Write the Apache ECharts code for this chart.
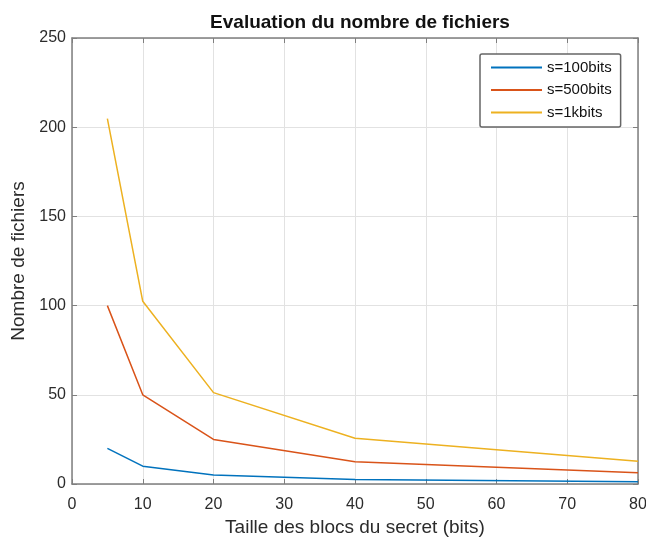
<!DOCTYPE html>
<html>
<head>
<meta charset="utf-8">
<script src="https://cdn.jsdelivr.net/npm/echarts@6/dist/echarts.min.js"></script>
<style>
  html, body { margin: 0; padding: 0; background: #fff; }
  #chart { width: 646px; height: 540px; }
</style>
</head>
<body>
<div id="chart"></div>
<script>
// tailles de blocs (bits)
const blockSizes = [5, 10, 20, 40, 80]
const s100 = [20, 10, 5, 2.5, 1.25]
const s500 = [100, 50, 25, 12.5, 6.25]
const s1k = [204.8, 102.4, 51.2, 25.6, 12.8]
const seriesNames = ['s=100bits', 's=500bits', 's=1kbits']
const seriesColors = ['#0072BD', '#D95319', '#EDB120']

const chart = echarts.init(document.getElementById('chart'))

const font = 'Helvetica, Arial, "Liberation Sans", sans-serif'
const axisCol = '#7f7f7f'
const textCol = '#2b2b2b'

function pairs(ys) {
  return blockSizes.map((x, i) => [x, ys[i]])
}

// axe secondaire (haut / droite) : juste le cadre + graduations
function frameAxis(extra) {
  return Object.assign({
    type: 'value',
    axisLine: { show: true, onZero: false, lineStyle: { color: axisCol, width: 1.5 } },
    axisTick: { show: true, inside: true, length: 5, lineStyle: { color: axisCol } },
    axisLabel: { show: false },
    splitLine: { show: false }
  }, extra)
}

chart.setOption({
  animation: false,
  title: {
    text: 'Evaluation du nombre de fichiers',
    left: 355,
    textAlign: 'center',
    top: 8,
    textStyle: { fontFamily: font, fontSize: 19, fontWeight: 'bold', color: '#111' }
  },
  legend: {
    orient: 'vertical',
    left: 480,
    top: 54,
    width: 142,
    padding: [5, 9, 6, 11],
    itemGap: 5.5,
    itemWidth: 51,
    itemHeight: 2,
    icon: 'rect',
    backgroundColor: '#fff',
    borderColor: '#666',
    borderWidth: 1.5,
    borderRadius: 2,
    textStyle: { fontFamily: font, fontSize: 15, lineHeight: 17, color: '#111' },
    data: seriesNames
  },
  grid: { left: 72, right: 8, top: 38, bottom: 56, show: false, outerBoundsMode: 'none' },
  xAxis: [
    {
      type: 'value',
      min: 0,
      max: 80,
      interval: 10,
      name: 'Taille des blocs du secret (bits)',
      nameLocation: 'middle',
      nameGap: 32,
      nameTextStyle: { fontFamily: font, fontSize: 19, color: textCol },
      axisLine: { show: true, onZero: false, lineStyle: { color: axisCol, width: 1.5 } },
      axisTick: { show: true, inside: true, length: 5, lineStyle: { color: axisCol } },
      axisLabel: { fontFamily: font, fontSize: 16, color: textCol, margin: 13 },
      splitLine: { show: true, lineStyle: { color: '#e2e2e2', width: 1 } }
    },
    frameAxis({ position: 'top', min: 0, max: 80, interval: 10 })
  ],
  yAxis: [
    {
      type: 'value',
      min: 0,
      max: 250,
      interval: 50,
      name: 'Nombre de fichiers',
      nameLocation: 'middle',
      nameGap: 34,
      nameTextStyle: { fontFamily: font, fontSize: 19, color: textCol },
      axisLine: { show: true, onZero: false, lineStyle: { color: axisCol, width: 1.5 } },
      axisTick: { show: true, inside: true, length: 5, lineStyle: { color: axisCol } },
      axisLabel: { fontFamily: font, fontSize: 16, color: textCol, margin: 6 },
      splitLine: { show: true, lineStyle: { color: '#e2e2e2', width: 1 } }
    },
    frameAxis({ position: 'right', min: 0, max: 250, interval: 50 })
  ],
  series: [s100, s500, s1k].map((ys, i) => ({
    name: seriesNames[i],
    type: 'line',
    data: pairs(ys),
    showSymbol: false,
    symbol: 'none',
    color: seriesColors[i],
    lineStyle: { width: 1.5, color: seriesColors[i] }
  }))
})
</script>
</body>
</html>
